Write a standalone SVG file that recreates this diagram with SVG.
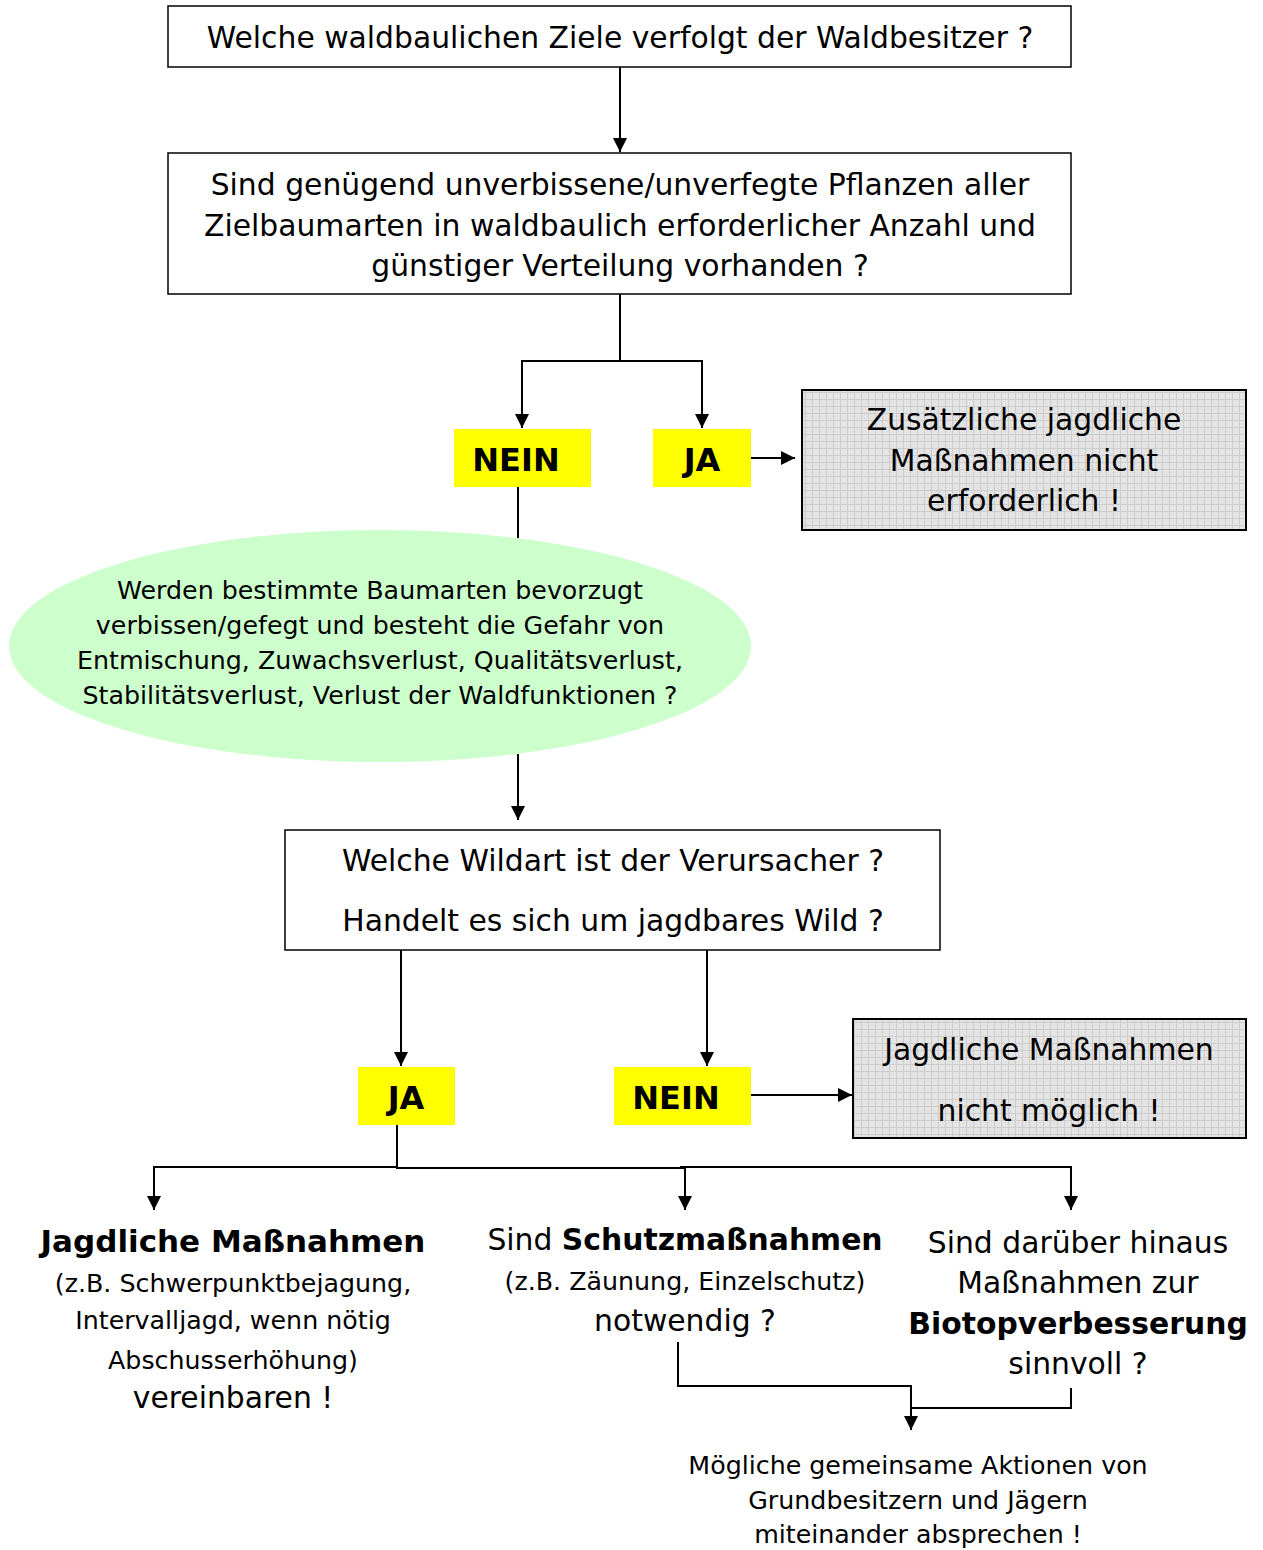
<svg xmlns="http://www.w3.org/2000/svg" width="1263" height="1550" viewBox="0 0 1263 1550">
<style>
text{font-family:"DejaVu Sans","Verdana",sans-serif;fill:#000;text-anchor:middle}
.l{font-size:29.8px}
.m{font-size:25.3px}
.b{font-weight:bold}
.y{font-size:32px;font-weight:bold}
.box{fill:#fff;stroke:#000;stroke-width:1.5}
.yel{fill:#ffff00}
.gray{fill:url(#grid);stroke:#000;stroke-width:2}
.c{fill:none;stroke:#000;stroke-width:2}
</style>
<defs>
<pattern id="grid" width="7" height="7" patternUnits="userSpaceOnUse">
<rect width="7" height="7" fill="#e4e4e4"/>
<path d="M0 0.5H7M0.5 0V7" stroke="#cdcdcd" stroke-width="1"/>
</pattern>
<marker id="ah" viewBox="0 0 10 10" refX="10" refY="5" markerWidth="7" markerHeight="7" orient="auto" markerUnits="strokeWidth">
<path d="M0 0L10 5L0 10Z" fill="#000"/>
</marker>
</defs>
<g id="connectors">
<path class="c" d="M620 67V152" marker-end="url(#ah)"/>
<path class="c" d="M620 294V361H522V428" marker-end="url(#ah)"/>
<path class="c" d="M620 361H702V428" marker-end="url(#ah)"/>
<path class="c" d="M751 458H795" marker-end="url(#ah)"/>
<path class="c" d="M518 487V538"/>
<path class="c" d="M518 754V820" marker-end="url(#ah)"/>
<path class="c" d="M401 950V1066" marker-end="url(#ah)"/>
<path class="c" d="M707 950V1066" marker-end="url(#ah)"/>
<path class="c" d="M751 1095H852" marker-end="url(#ah)"/>
<path class="c" d="M397 1125V1168H685V1210" marker-end="url(#ah)"/>
<path class="c" d="M397 1167H154V1210" marker-end="url(#ah)"/>
<path class="c" d="M680 1167H1071V1210" marker-end="url(#ah)"/>
<path class="c" d="M678 1342V1386H911V1430" marker-end="url(#ah)"/>
<path class="c" d="M1071 1388V1408H911"/>
</g>
<g id="n1">
<rect class="box" x="168" y="6" width="903" height="61"/>
<text class="l" x="620" y="48">Welche waldbaulichen Ziele verfolgt der Waldbesitzer ?</text>
</g>
<g id="n2">
<rect class="box" x="168" y="153" width="903" height="141"/>
<text class="l" x="620" y="195">Sind genügend unverbissene/unverfegte Pflanzen aller</text>
<text class="l" x="620" y="236">Zielbaumarten in waldbaulich erforderlicher Anzahl und</text>
<text class="l" x="620" y="276">günstiger Verteilung vorhanden ?</text>
</g>
<g id="n3">
<rect class="yel" x="454" y="429" width="137" height="58"/>
<text class="y" x="516" y="471">NEIN</text>
</g>
<g id="n4">
<rect class="yel" x="653" y="429" width="98" height="58"/>
<text class="y" x="702" y="471">JA</text>
</g>
<g id="n5">
<rect class="gray" x="802" y="390" width="444" height="140"/>
<text class="l" x="1024" y="430">Zusätzliche jagdliche</text>
<text class="l" x="1024" y="471">Maßnahmen nicht</text>
<text class="l" x="1024" y="511">erforderlich !</text>
</g>
<g id="n6">
<ellipse cx="380" cy="646" rx="371" ry="116" fill="#ccffcc"/>
<text class="m" x="380" y="599">Werden bestimmte Baumarten bevorzugt</text>
<text class="m" x="380" y="634">verbissen/gefegt und besteht die Gefahr von</text>
<text class="m" x="380" y="669">Entmischung, Zuwachsverlust, Qualitätsverlust,</text>
<text class="m" x="380" y="704">Stabilitätsverlust, Verlust der Waldfunktionen ?</text>
</g>
<g id="n7">
<rect class="box" x="285" y="830" width="655" height="120"/>
<text class="l" x="613" y="871">Welche Wildart ist der Verursacher ?</text>
<text class="l" x="613" y="931">Handelt es sich um jagdbares Wild ?</text>
</g>
<g id="n8">
<rect class="yel" x="358" y="1067" width="97" height="58"/>
<text class="y" x="406" y="1109">JA</text>
</g>
<g id="n9">
<rect class="yel" x="614" y="1067" width="137" height="58"/>
<text class="y" x="676" y="1109">NEIN</text>
</g>
<g id="n10">
<rect class="gray" x="853" y="1019" width="393" height="119"/>
<text class="l" x="1049" y="1060">Jagdliche Maßnahmen</text>
<text class="l" x="1049" y="1121">nicht möglich !</text>
</g>
<g id="n11">
<text class="l b" x="233" y="1252" style="font-size:31px">Jagdliche Maßnahmen</text>
<text class="m" x="233" y="1292">(z.B. Schwerpunktbejagung,</text>
<text class="m" x="233" y="1329">Intervalljagd, wenn nötig</text>
<text class="m" x="233" y="1369">Abschusserhöhung)</text>
<text class="l" x="233" y="1408">vereinbaren !</text>
</g>
<g id="n12">
<text class="l" x="685" y="1250">Sind <tspan class="b">Schutzmaßnahmen</tspan></text>
<text class="m" x="685" y="1290">(z.B. Zäunung, Einzelschutz)</text>
<text class="l" x="685" y="1331">notwendig ?</text>
</g>
<g id="n13">
<text class="l" x="1078" y="1253">Sind darüber hinaus</text>
<text class="l" x="1078" y="1293">Maßnahmen zur</text>
<text class="l b" x="1078" y="1334">Biotopverbesserung</text>
<text class="l" x="1078" y="1374">sinnvoll ?</text>
</g>
<g id="n14">
<text class="m" x="918" y="1474">Mögliche gemeinsame Aktionen von</text>
<text class="m" x="918" y="1509">Grundbesitzern und Jägern</text>
<text class="m" x="918" y="1543">miteinander absprechen !</text>
</g>
</svg>
